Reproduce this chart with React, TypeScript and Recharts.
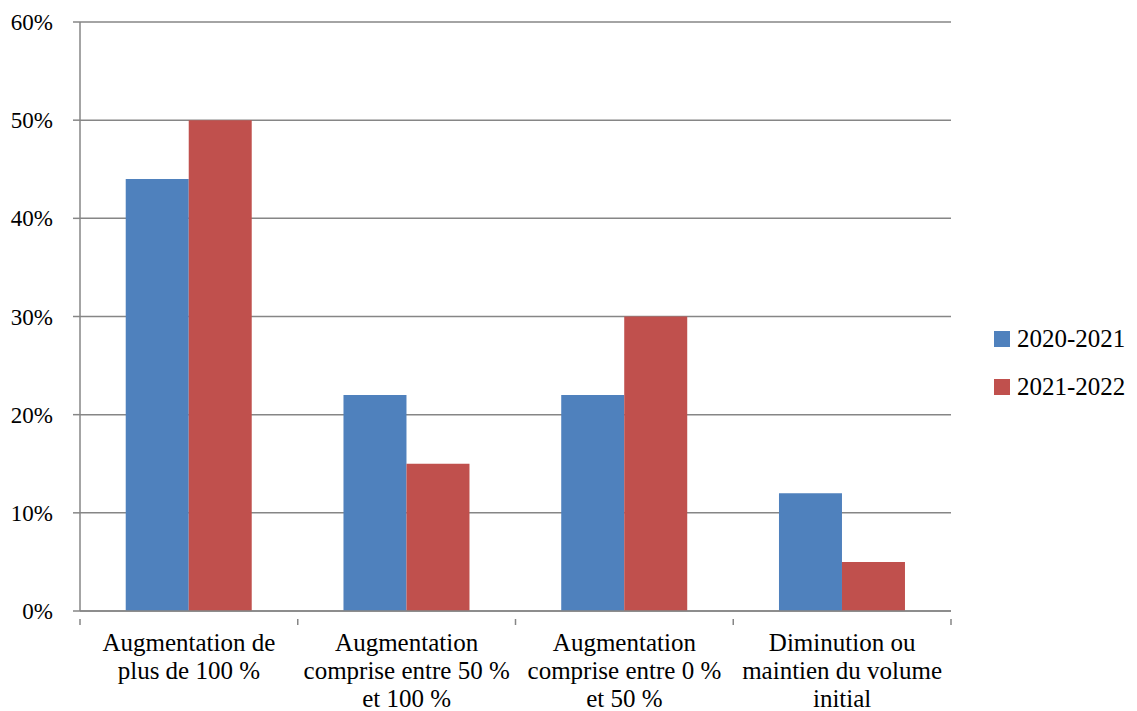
import { BarChart, Bar, XAxis, YAxis, CartesianGrid } from "recharts";

const categories = [
  "Augmentation de\nplus de 100 %",
  "Augmentation\ncomprise entre 50 %\net 100 %",
  "Augmentation\ncomprise entre 0 %\net 50 %",
  "Diminution ou\nmaintien du volume\ninitial",
];
const values2021 = [44, 22, 22, 12];
const values2022 = [50, 15, 30, 5];
const yTicks = [0, 10, 20, 30, 40, 50, 60];
const seriesNames = ["2020-2021", "2021-2022"];

const data = categories.map((c, i) => ({
  name: c,
  a: values2021[i],
  b: values2022[i],
}));

const FONT = "'Liberation Serif', serif";
const AXIS = "#868686";
const BLUE = "#4F81BD";
const RED = "#C0504D";

function CatTick(props: any) {
  const { x, y, payload, index } = props;
  const off = payload?.offset ?? 0;
  const lines = String(payload.value).split("\n");
  return (
    <g>
      <line x1={x - off} x2={x - off} y1={y} y2={y + 6} stroke={AXIS} strokeWidth={1.5} />
      {index === categories.length - 1 && (
        <line x1={x + off} x2={x + off} y1={y} y2={y + 6} stroke={AXIS} strokeWidth={1.5} />
      )}
      <text x={x} y={y} textAnchor="middle" fontFamily={FONT} fontSize={25} fill="#000">
        {lines.map((l, i) => (
          <tspan key={i} x={x} dy={i === 0 ? 32 : 28}>
            {l}
          </tspan>
        ))}
      </text>
    </g>
  );
}

export default function App() {
  const colors = [BLUE, RED];
  return (
    <div style={{ position: "absolute", left: 0, top: 0, width: 1137, height: 711, background: "#fff" }}>
      <BarChart
        width={1137}
        height={711}
        data={data}
        margin={{ top: 22, right: 186, left: 0, bottom: 0 }}
        barCategoryGap="21%"
        barGap={0}
      >
        <CartesianGrid vertical={false} stroke={AXIS} strokeWidth={1.5} />
        <XAxis
          dataKey="name"
          height={100}
          interval={0}
          axisLine={{ stroke: AXIS, strokeWidth: 1.5 }}
          tickLine={false}
          tick={<CatTick />}
        />
        <YAxis
          width={80}
          domain={[0, 60]}
          ticks={yTicks}
          tickFormatter={(v: number) => `${v}%`}
          axisLine={{ stroke: AXIS, strokeWidth: 1.5 }}
          tickLine={{ stroke: AXIS, strokeWidth: 1.5 }}
          tickSize={7}
          tickMargin={20}
          tick={{ fontFamily: FONT, fontSize: 23, fill: "#000" }}
        />
        <Bar dataKey="a" name={seriesNames[0]} fill={BLUE} isAnimationActive={false} />
        <Bar dataKey="b" name={seriesNames[1]} fill={RED} isAnimationActive={false} />
      </BarChart>
      <div style={{ position: "absolute", left: 994, top: 324, fontFamily: FONT, fontSize: 25 }}>
        {seriesNames.map((s, i) => (
          <div key={s} style={{ display: "flex", alignItems: "center", height: 30, marginBottom: 18 }}>
            <span style={{ width: 16, height: 16, background: colors[i], display: "inline-block", marginRight: 7 }} />
            <span>{s}</span>
          </div>
        ))}
      </div>
    </div>
  );
}
